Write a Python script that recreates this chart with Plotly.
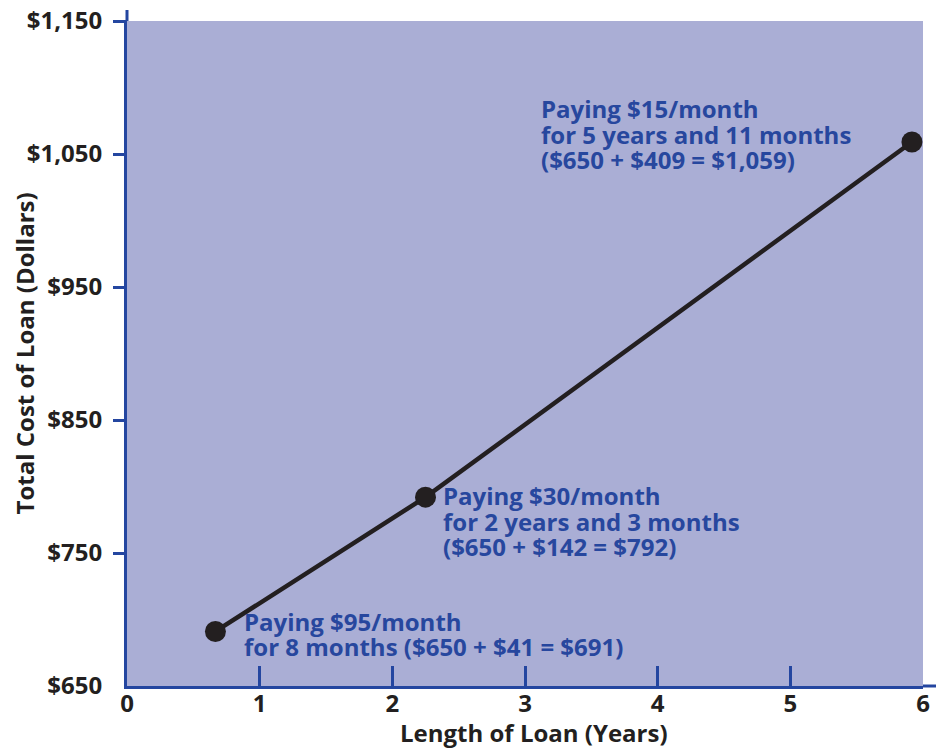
import plotly.graph_objects as go

# Loan options: length in years and total cost in dollars
loan_years = [8 / 12, 2 + 3 / 12, 5 + 11 / 12]
total_cost = [691, 792, 1059]

y_tick_vals = [650, 750, 850, 950, 1050, 1150]
y_tick_text = ["$650", "$750", "$850", "$950", "$1,050", "$1,150"]
x_tick_vals = [0, 1, 2, 3, 4, 5, 6]

label_lines = [
    ["Paying $95/month", "for 8 months ($650 + $41 = $691)"],
    ["Paying $30/month", "for 2 years and 3 months", "($650 + $142 = $792)"],
    ["Paying $15/month", "for 5 years and 11 months", "($650 + $409 = $1,059)"],
]

BG = "#AAAED5"
AXIS_BLUE = "#2446A0"
TEXT_BLUE = "#27479E"
INK = "#231F20"
FONT = "Open Sans"
FS = 24

fig = go.Figure()
fig.add_trace(go.Scatter(
    x=loan_years, y=total_cost, mode="lines+markers",
    line=dict(color=INK, width=4.5),
    marker=dict(color=INK, size=21),
    hoverinfo="skip", showlegend=False,
))
# invisible helper so the tick-mark axis is drawn
fig.add_trace(go.Scatter(x=[0], y=[650], yaxis="y2", mode="none",
                         showlegend=False, hoverinfo="skip"))

# text block anchors (left edge, vertical centre) for each callout
label_anchor = [(0.874, 689), (2.374, 774), (3.113, 1065)]
LINE_STEP = 25.5
annotations = []
for (ax, ay), lines in zip(label_anchor, label_lines):
    n = len(lines)
    for i, ln in enumerate(lines):
        annotations.append(dict(
            x=ax, y=ay, xref="x", yref="y", text=ln, showarrow=False,
            xanchor="left", yanchor="middle", borderpad=0,
            yshift=((n - 1) / 2 - i) * LINE_STEP,
            font=dict(family=FONT, size=FS, color=TEXT_BLUE, weight="bold"),
        ))

annotations.append(dict(
    x=0.511, y=0, xref="paper", yref="paper", yshift=-46,
    text="Length of Loan (Years)", showarrow=False,
    xanchor="center", yanchor="middle", borderpad=0,
    font=dict(family=FONT, size=FS, color=INK, weight="bold"),
))
annotations.append(dict(
    x=0, y=0.5, xref="paper", yref="paper", xshift=-103,
    text="Total Cost of Loan (Dollars)", showarrow=False, textangle=-90,
    xanchor="center", yanchor="middle",
    font=dict(family=FONT, size=FS, color=INK, weight="bold"),
))

W, H = 936, 749
L, R, T, B = 127, 13, 21, 63
pw, ph = W - L - R, H - T - B

fig.update_layout(
    width=W, height=H,
    margin=dict(l=L, r=R, t=T, b=B, autoexpand=False),
    paper_bgcolor="white", plot_bgcolor=BG,
    annotations=annotations,
    xaxis=dict(
        range=[0, 6], tickvals=x_tick_vals, ticks="inside", ticklen=20,
        tickwidth=3, tickcolor=AXIS_BLUE, showline=True, linewidth=3,
        linecolor=AXIS_BLUE, showgrid=False, zeroline=False, automargin=False,
        ticklabelstandoff=-6,
        tickfont=dict(family=FONT, size=FS, color=INK, weight="bold"),
    ),
    yaxis=dict(
        range=[650, 1150], tickvals=y_tick_vals, ticktext=y_tick_text,
        ticks="", ticklabelstandoff=17, showline=True, linewidth=3,
        linecolor=AXIS_BLUE, showgrid=False, zeroline=False, automargin=False,
        tickfont=dict(family=FONT, size=FS, color=INK, weight="bold"),
    ),
    yaxis2=dict(
        range=[650, 1150], overlaying="y", side="left", automargin=False,
        tickvals=y_tick_vals[1:], ticks="outside", ticklen=13, tickwidth=3,
        tickcolor=AXIS_BLUE, showticklabels=False, showline=False,
        showgrid=False, zeroline=False,
    ),
    shapes=[
        # axis lines run a little past the plotting area
        dict(type="line", xref="paper", yref="paper", x0=0, x1=0,
             y0=1, y1=1 + 11 / ph, line=dict(color=AXIS_BLUE, width=3)),
        dict(type="line", xref="paper", yref="paper", x0=1, x1=1 + 13 / pw,
             y0=0, y1=0, line=dict(color=AXIS_BLUE, width=3)),
    ],
)

fig.write_html("out.html")
